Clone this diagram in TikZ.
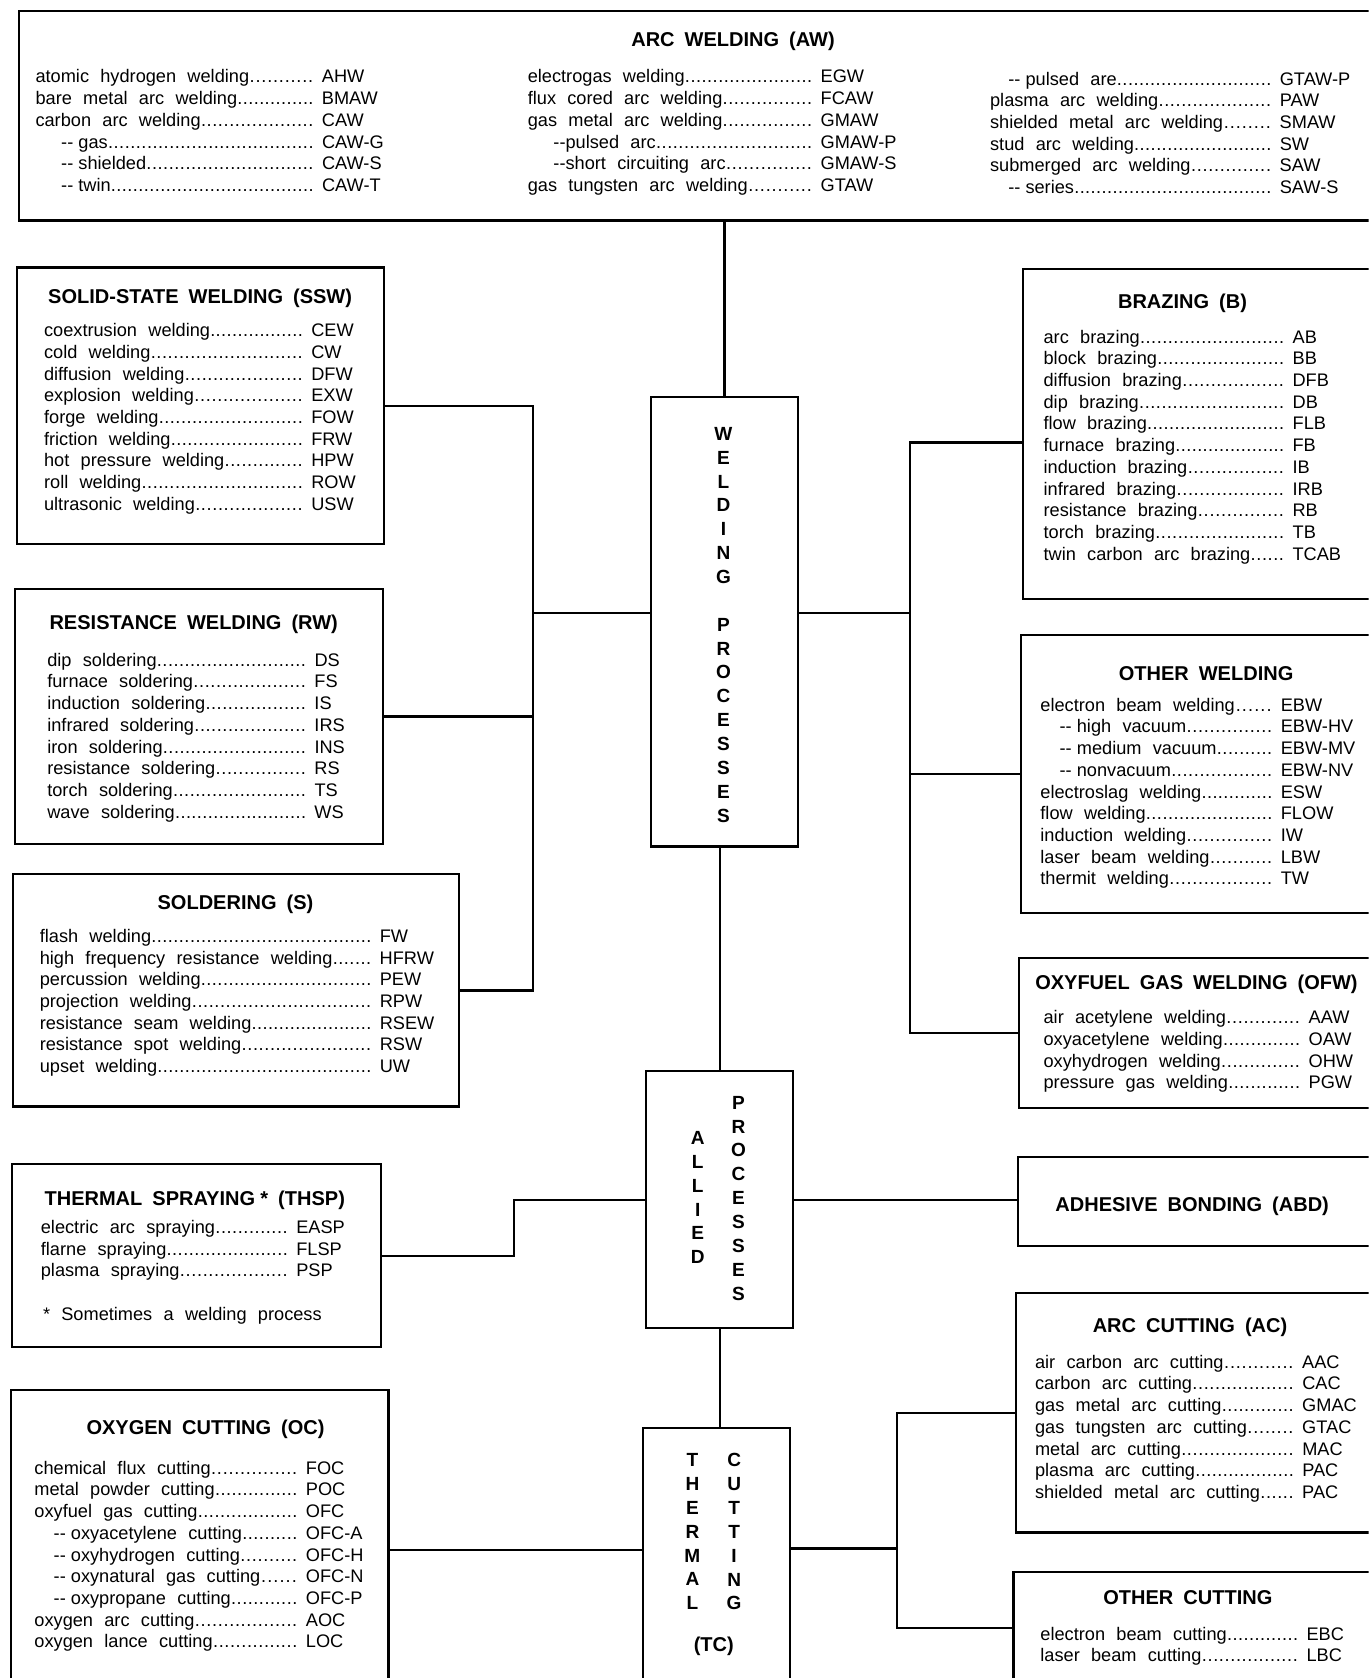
\documentclass[tikz,border=0pt]{standalone}
\usepackage{fontspec}
\setmainfont{Liberation Sans}

\newlength\namew
\newcommand\dleader{\xleaders\hbox to 0.3em{\hss.\hss}\hfill}
\newcommand\ent[2]{\makebox[\namew][l]{#1\dleader}\hspace{0.45em}#2}
\newcommand\dd{-{}-\hspace{0.28em}}
\newcommand\bodyfont{\fontsize{17}{20.3}\selectfont\spaceskip=0.62em\relax}
\newcommand\titlefont{\fontsize{18.7}{22}\selectfont\bfseries\spaceskip=0.5em\relax}
\newcommand\stackfont{\fontsize{17.8}{22.3}\selectfont\bfseries}

\tikzset{
  pbox/.style 2 args={draw, line width=2pt, inner sep=0pt, anchor=north west,
    minimum width=#1pt, minimum height=#2pt},
  link/.style={line width=2pt},
  ttl/.style={font=\titlefont, anchor=base, inner sep=0pt},
  list/.style={font=\bodyfont, align=left, anchor=north west, inner sep=0pt,
    execute at begin node={\setlength\namew{#1pt}}},
  stack/.style={font=\stackfont, align=center, anchor=north, inner sep=0pt}
}

\begin{document}
\begin{tikzpicture}[x=1pt, y=-1pt]
    \useasboundingbox (0,0) rectangle (1279,1568);
    \clip (0,0) rectangle (1279,1568);

    % boxes
    \node[pbox={1283}{196}] (aw) at (17,9) {};
    \node[pbox={343}{258}] (ssw) at (15,249) {};
    \node[pbox={344}{239}] (rw) at (13,549) {};
    \node[pbox={417}{217}] (sol) at (11,816) {};
    \node[pbox={345}{171}] (thsp) at (10,1087) {};
    \node[pbox={353}{298}] (oc) at (9,1298) {};
    \node[pbox={138}{420}] (wp) at (607,370) {};
    \node[pbox={137}{240}] (ap) at (603,1000) {};
    \node[pbox={137}{280}] (tc) at (600,1333) {};
    \node[pbox={345}{309}] (brz) at (955,250) {};
    \node[pbox={347}{260}] (ow) at (953,592) {};
    \node[pbox={349}{140}] (ofw) at (951,894) {};
    \node[pbox={350}{83}] (abd) at (950,1080) {};
    \node[pbox={352}{224}] (ac) at (948,1207) {};
    \node[pbox={354}{140}] (oct) at (946,1468) {};

    % connectors
    \coordinate (wl) at (498,573);
    \coordinate (wr) at (850,573);
    \coordinate (tstep) at (480,1170);
    \coordinate (cr) at (838,1447);
    \draw[link] (wp.north |- aw.south) -- (wp.north);
    \draw[link] (ssw.east) -| (wl);
    \draw[link] (sol.east) -| (wl);
    \draw[link] (rw.east) -- (rw.east -| wl);
    \draw[link] (wl) -- (wl -| wp.west);
    \draw[link] (wr) -- (wr -| wp.east);
    \draw[link] ([yshift=-8pt]brz.west) -| (wr);
    \draw[link] (ofw.west) -| (wr);
    \draw[link] (ow.west) -- (ow.west -| wr);
    \draw[link] (ap.north) -- (ap.north |- wp.south);
    \draw[link] (ap.south) -- (ap.south |- tc.north);
    \draw[link] (thsp.east) -| (tstep) |- (ap.west);
    \draw[link] (ap.east) -- (ap.east -| abd.west);
    \draw[link] (oc.east) -- (oc.east -| tc.west);
    \draw[link] (tc.east |- cr) -- (cr);
    \draw[link] (ac.west) -| (cr);
    \draw[link] ([yshift=18pt]oct.west) -| (cr);

    % arc welding
    \node[ttl] (aw-t) at (685,43) {ARC WELDING (AW)};
    \node[list=260] (aw-a) at (33,65) {\ent{atomic hydrogen welding}{AHW}\\
      \ent{bare metal arc welding}{BMAW}\\
      \ent{carbon arc welding}{CAW}\\
      \ent{\hspace*{24pt}\dd gas}{CAW-G}\\
      \ent{\hspace*{24pt}\dd shielded}{CAW-S}\\
      \ent{\hspace*{24pt}\dd twin}{CAW-T}};
    \node[list=266] (aw-b) at (493,65) {\ent{electrogas welding}{EGW}\\
      \ent{flux cored arc welding}{FCAW}\\
      \ent{gas metal arc welding}{GMAW}\\
      \ent{\hspace*{24pt}-{}-pulsed arc}{GMAW-P}\\
      \ent{\hspace*{24pt}-{}-short circuiting arc}{GMAW-S}\\
      \ent{gas tungsten arc welding}{GTAW}};
    \node[list=263] (aw-c) at (925,67) {\ent{\hspace*{17pt}\dd pulsed are}{GTAW-P}\\
      \ent{plasma arc welding}{PAW}\\
      \ent{shielded metal arc welding}{SMAW}\\
      \ent{stud arc welding}{SW}\\
      \ent{submerged arc welding}{SAW}\\
      \ent{\hspace*{17pt}\dd series}{SAW-S}};

    % left column
    \node[ttl] (ssw-t) at (187,284) {SOLID-STATE WELDING (SSW)};
    \node[list=242] (ssw-l) at (41,302) {\ent{coextrusion welding}{CEW}\\
      \ent{cold welding}{CW}\\
      \ent{diffusion welding}{DFW}\\
      \ent{explosion welding}{EXW}\\
      \ent{forge welding}{FOW}\\
      \ent{friction welding}{FRW}\\
      \ent{hot pressure welding}{HPW}\\
      \ent{roll welding}{ROW}\\
      \ent{ultrasonic welding}{USW}};

    \node[ttl] (rw-t) at (181,588) {RESISTANCE WELDING (RW)};
    \node[list=242] (rw-l) at (44,610) {\ent{dip soldering}{DS}\\
      \ent{furnace soldering}{FS}\\
      \ent{induction soldering}{IS}\\
      \ent{infrared soldering}{IRS}\\
      \ent{iron soldering}{INS}\\
      \ent{resistance soldering}{RS}\\
      \ent{torch soldering}{TS}\\
      \ent{wave soldering}{WS}};

    \node[ttl] (sol-t) at (220,850) {SOLDERING (S)};
    \node[list=310] (sol-l) at (37,868) {\ent{flash welding}{FW}\\
      \ent{high frequency resistance welding}{HFRW}\\
      \ent{percussion welding}{PEW}\\
      \ent{projection welding}{RPW}\\
      \ent{resistance seam welding}{RSEW}\\
      \ent{resistance spot welding}{RSW}\\
      \ent{upset welding}{UW}};

    \node[ttl] (thsp-t) at (182,1126) {THERMAL SPRAYING\hspace{5pt}* (THSP)};
    \node[list=231] (thsp-l) at (38,1140) {\ent{electric arc spraying}{EASP}\\
      \ent{flarne spraying}{FLSP}\\
      \ent{plasma spraying}{PSP}};
    \node[list=0, anchor=base west] (thsp-n) at (40,1234) {* Sometimes a welding process};

    \node[ttl] (oc-t) at (192,1340) {OXYGEN CUTTING (OC)};
    \node[list=246] (oc-l) at (32,1365) {\ent{chemical flux cutting}{FOC}\\
      \ent{metal powder cutting}{POC}\\
      \ent{oxyfuel gas cutting}{OFC}\\
      \ent{\hspace*{18pt}\dd oxyacetylene cutting}{OFC-A}\\
      \ent{\hspace*{18pt}\dd oxyhydrogen cutting}{OFC-H}\\
      \ent{\hspace*{18pt}\dd oxynatural gas cutting}{OFC-N}\\
      \ent{\hspace*{18pt}\dd oxypropane cutting}{OFC-P}\\
      \ent{oxygen arc cutting}{AOC}\\
      \ent{oxygen lance cutting}{LOC}};

    % right column
    \node[ttl] (brz-t) at (1105,288) {BRAZING (B)};
    \node[list=225] (brz-l) at (975,308) {\ent{arc brazing}{AB}\\
      \ent{block brazing}{BB}\\
      \ent{diffusion brazing}{DFB}\\
      \ent{dip brazing}{DB}\\
      \ent{flow brazing}{FLB}\\
      \ent{furnace brazing}{FB}\\
      \ent{induction brazing}{IB}\\
      \ent{infrared brazing}{IRB}\\
      \ent{resistance brazing}{RB}\\
      \ent{torch brazing}{TB}\\
      \ent{twin carbon arc brazing}{TCAB}};

    \node[ttl] (ow-t) at (1127,636) {OTHER WELDING};
    \node[list=217] (ow-l) at (972,652) {\ent{electron beam welding}{EBW}\\
      \ent{\hspace*{18pt}\dd high vacuum}{EBW-HV}\\
      \ent{\hspace*{18pt}\dd medium vacuum}{EBW-MV}\\
      \ent{\hspace*{18pt}\dd nonvacuum}{EBW-NV}\\
      \ent{electroslag welding}{ESW}\\
      \ent{flow welding}{FLOW}\\
      \ent{induction welding}{IW}\\
      \ent{laser beam welding}{LBW}\\
      \ent{thermit welding}{TW}};

    \node[ttl] (ofw-t) at (1118,925) {OXYFUEL GAS WELDING (OFW)};
    \node[list=240] (ofw-l) at (975,944) {\ent{air acetylene welding}{AAW}\\
      \ent{oxyacetylene welding}{OAW}\\
      \ent{oxyhydrogen welding}{OHW}\\
      \ent{pressure gas welding}{PGW}};

    \node[ttl] (abd-t) at (1114,1132) {ADHESIVE BONDING (ABD)};

    \node[ttl] (ac-t) at (1112,1245) {ARC CUTTING (AC)};
    \node[list=242] (ac-l) at (967,1266) {\ent{air carbon arc cutting}{AAC}\\
      \ent{carbon arc cutting}{CAC}\\
      \ent{gas metal arc cutting}{GMAC}\\
      \ent{gas tungsten arc cutting}{GTAC}\\
      \ent{metal arc cutting}{MAC}\\
      \ent{plasma arc cutting}{PAC}\\
      \ent{shielded metal arc cutting}{PAC}};

    \node[ttl] (oct-t) at (1110,1499) {OTHER CUTTING};
    \node[list=241] (oct-l) at (972,1520) {\ent{electron beam cutting}{EBC}\\
      \ent{laser beam cutting}{LBC}};

    % centre column
    \node[stack] (wp-t) at (676,399) {W\\E\\L\\D\\I\\N\\G\\[22.3pt]P\\R\\O\\C\\E\\S\\S\\E\\S};
    \node[stack] (ap-a) at (652,1057) {A\\L\\L\\I\\E\\D};
    \node[stack] (ap-b) at (690,1024) {P\\R\\O\\C\\E\\S\\S\\E\\S};
    \node[stack] (tc-a) at (647,1358) {T\\H\\E\\R\\M\\A\\L};
    \node[stack] (tc-b) at (686,1358) {C\\U\\T\\T\\I\\N\\G};
    \node[ttl] (tc-t) at (667,1543) {(TC)};
\end{tikzpicture}
\end{document}
